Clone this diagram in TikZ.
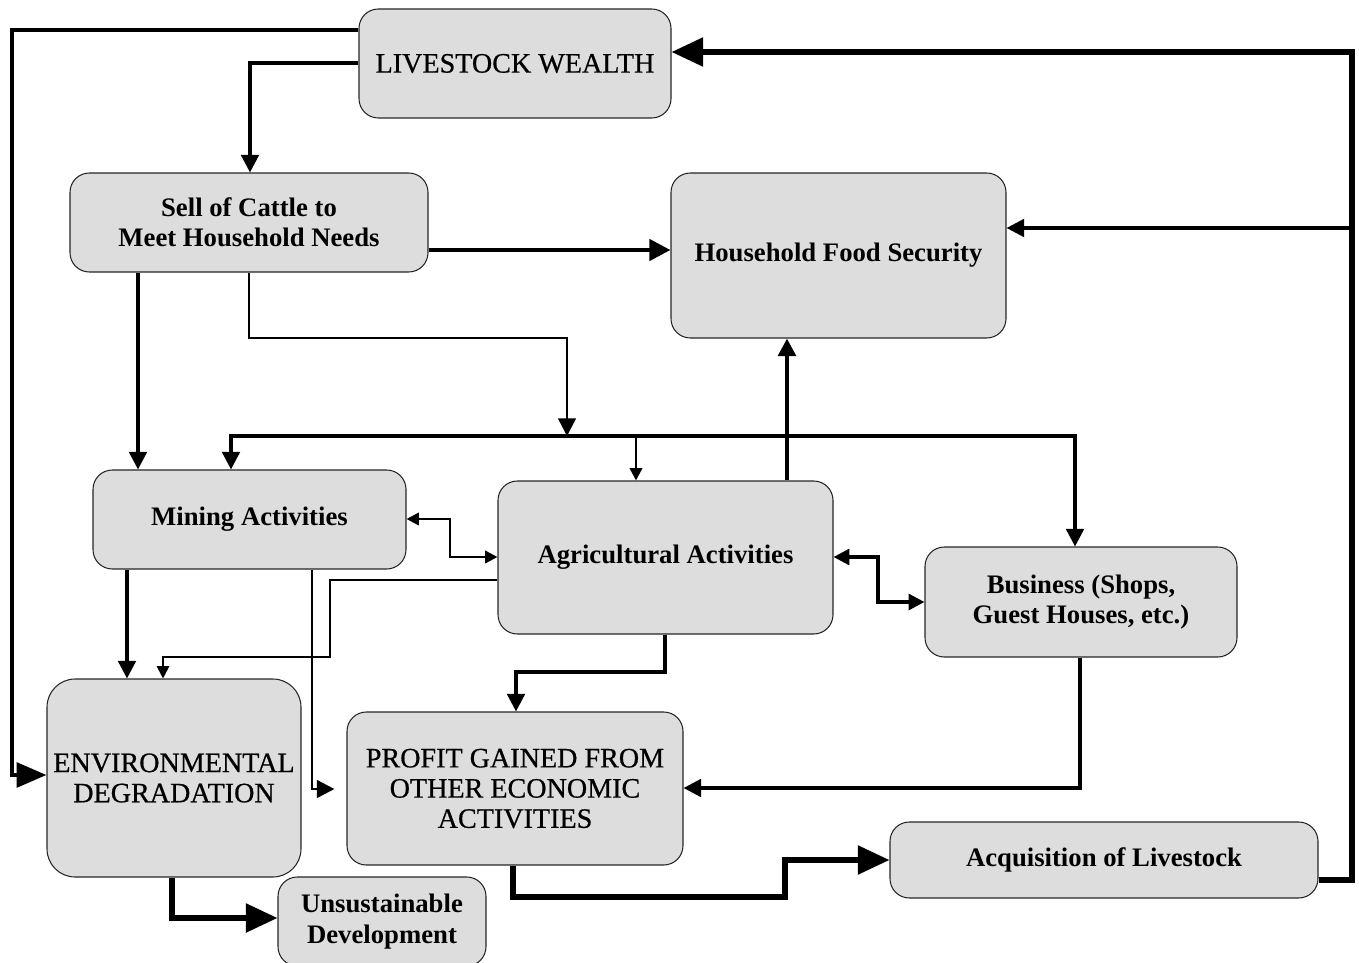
\documentclass[tikz,border=0pt]{standalone}
\usepackage{fontspec}
\setmainfont{Liberation Serif}
\newfontfamily\capfont{Liberation Serif}[FakeBold=0.6]
\usetikzlibrary{arrows.meta}
\definecolor{boxgray}{RGB}{221,221,221}
\newcommand\mkbox[7]{\node[box,#6,minimum width={(#4-#2)*0.02cm},minimum height={(#5-#3)*0.02cm}] (#1) at ({(#2+#4)/2},{(#3+#5)/2}) {#7};}
\begin{document}
\begin{tikzpicture}[x=0.02cm,y=-0.02cm,
  box/.style={draw=black!85, line width=0.6pt, fill=boxgray, rounded corners=11pt, inner sep=0pt, align=center},
  capf/.style={font=\capfont\fontsize{16}{17.2}\selectfont},
  bldf/.style={font=\bfseries\fontsize{15.2}{17.2}\selectfont},
  w1/.style={line width=1pt},
  w2/.style={line width=1.4pt},
  w3/.style={line width=1.9pt},
  w4/.style={line width=2.4pt},
  w5/.style={line width=3pt},
  ar1/.style={-{Triangle[length=7pt,width=7pt]}},
  ar2/.style={-{Triangle[length=10pt,width=10pt]}},
  ar3/.style={-{Triangle[length=18pt,width=16pt]}},
  bi1/.style={{Triangle[length=7pt,width=7pt]}-{Triangle[length=7pt,width=7pt]}},
  bi2/.style={{Triangle[length=9pt,width=9pt]}-{Triangle[length=9pt,width=9pt]}}]
\useasboundingbox (0,0) rectangle (1359,963);
\mkbox{LW}{359}{9}{671}{118}{capf}{LIVESTOCK WEALTH}
\mkbox{Sell}{70}{173}{428}{272}{bldf}{Sell of Cattle to\\Meet Household Needs}
\mkbox{HFS}{671}{173}{1006}{338}{bldf}{Household Food Security}
\mkbox{Mining}{93}{470}{406}{569}{bldf}{Mining Activities}
\mkbox{Agri}{498}{481}{833}{634}{bldf}{Agricultural Activities}
\mkbox{Bus}{925}{547}{1237}{657}{bldf}{Business (Shops,\\Guest Houses, etc.)}
\mkbox{Env}{47}{679}{301}{877}{capf,rounded corners=16pt}{ENVIRONMENTAL\\DEGRADATION}
\mkbox{Profit}{347}{712}{683}{865}{capf}{PROFIT GAINED FROM\\OTHER ECONOMIC\\ACTIVITIES}
\mkbox{Acq}{890}{822}{1318}{898}{bldf}{Acquisition of Livestock}
\mkbox{Uns}{278}{877}{486}{966}{bldf}{Unsustainable\\Development}

\draw[w4,-{Triangle[length=17pt,width=14pt]}] (LW.west |- 0,30) -- (12,30) -- (12,775) -- (Env.west |- 0,775);
\draw[w3,ar2] (LW.west |- 0,63) -- (250,63) -- (Sell.north -| 250,0);
\draw[w4,-{Triangle[length=12pt,width=12pt]}] (Sell.east |- 0,250) -- (HFS.west |- 0,250);
\draw[w3,ar2] (Sell.south -| 138,0) -- (Mining.north -| 138,0);
\coordinate (busmid) at (567,436);
\draw[w2,ar2] (Sell.south -| 249,0) -- (249,338) -- (567,338) -- (busmid);
\draw[w3,{Triangle[length=10pt,width=10pt]}-{Triangle[length=10pt,width=10pt]}] (Mining.north -| 231,0) -- (231,436) -- (1075,436) -- (Bus.north -| 1075,0);
\draw[w2,ar1] (636,436) -- (Agri.north -| 636,0);
\draw[w4,ar2] (Agri.north -| 787,0) -- (HFS.south -| 787,0);
\draw[w2,bi1] (Mining.east |- 0,519) -- (450,519) -- (450,557) -- (Agri.west |- 0,557);
\draw[w3,bi2] (Agri.east |- 0,557) -- (878,557) -- (878,602) -- (Bus.west |- 0,602);
\draw[w3,ar2] (Mining.south -| 127,0) -- (Env.north -| 127,0);
\draw[w1,ar1] (Agri.west |- 0,580) -- (330,580) -- (330,657) -- (163,657) -- (Env.north -| 163,0);
\draw[w2,ar2,shorten >=0.24cm] (Mining.south -| 312,0) -- (312,789) -- (Profit.west |- 0,789);
\draw[w3,ar2] (Agri.south -| 665,0) -- (665,672) -- (516,672) -- (Profit.north -| 516,0);
\draw[w3,ar2] (Bus.south -| 1080,0) -- (1080,788) -- (Profit.east |- 0,788);
\draw[w5,ar3] (Profit.south -| 513,0) -- (513,897) -- (785,897) -- (785,860) -- (Acq.west |- 0,860);
\draw[w5,ar3] (Acq.east |- 0,880) -- (1352,880) -- (1352,52) -- (LW.east |- 0,52);
\draw[w3,ar2] (1352,228) -- (HFS.east |- 0,228);
\draw[w5,ar3] (Env.south -| 172,0) -- (172,918) -- (Uns.west |- 0,918);
\end{tikzpicture}
\end{document}
